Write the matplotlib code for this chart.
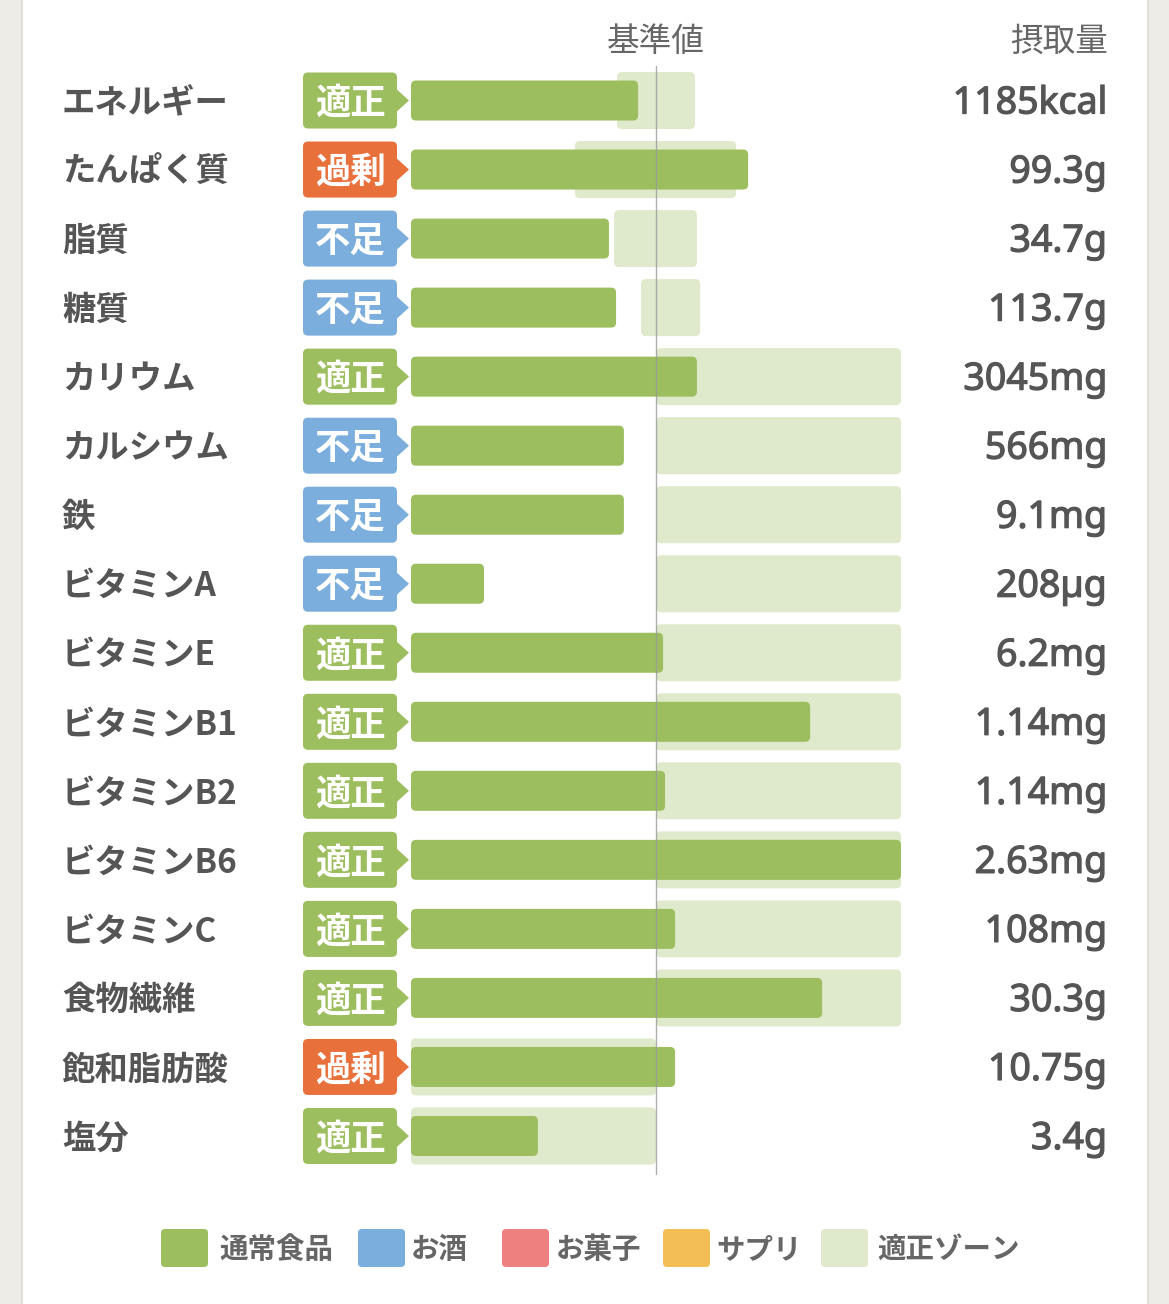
import matplotlib
matplotlib.use('Agg')
import matplotlib.pyplot as plt
from matplotlib.patches import FancyBboxPatch, Polygon, Rectangle
import matplotlib.transforms as mtrans
import matplotlib.patheffects as pe

plt.rcParams['font.family'] = ['Noto Sans CJK JP', 'DejaVu Sans']

# ---------------- data ----------------
nutrients = ['エネルギー', 'たんぱく質', '脂質', '糖質', 'カリウム', 'カルシウム', '鉄',
             'ビタミンA', 'ビタミンE', 'ビタミンB1', 'ビタミンB2', 'ビタミンB6',
             'ビタミンC', '食物繊維', '飽和脂肪酸', '塩分']
status = ['適正', '過剰', '不足', '不足', '適正', '不足', '不足', '不足',
          '適正', '適正', '適正', '適正', '適正', '適正', '過剰', '適正']
intake_labels = ['1185kcal', '99.3g', '34.7g', '113.7g', '3045mg', '566mg', '9.1mg',
                 '208µg', '6.2mg', '1.14mg', '1.14mg', '2.63mg', '108mg', '30.3g',
                 '10.75g', '3.4g']
# intake as % of the reference value (基準値 = 100), bar capped at 200
intake_pct = [92.7, 137.6, 80.8, 83.7, 116.7, 86.9, 86.9, 29.8, 102.9, 162.9,
              103.7, 200.0, 107.8, 167.8, 107.8, 51.8]
zone_lo = [84.1, 66.9, 82.9, 93.9, 100, 100, 100, 100, 100, 100, 100, 100, 100, 100, 0, 0]
zone_hi = [115.9, 132.7, 116.7, 118.0, 200, 200, 200, 200, 200, 200, 200, 200, 200, 200, 100, 100]
legend_labels = ['通常食品', 'お酒', 'お菓子', 'サプリ', '適正ゾーン']

# ---------------- styles ----------------
BAR = '#9DBE5E'
ZONE = '#DEEACB'
STATUS_COL = {'適正': '#9DBE5E', '過剰': '#E8703B', '不足': '#7BAEDC'}
LEG_COL = ['#9DBE5E', '#7BAEDC', '#EE8080', '#F3BE55', '#DEEACB']
TXT = '#555555'

W, H = 1169, 1304
fig = plt.figure(figsize=(W / 100, H / 100), dpi=100)
fig.patch.set_facecolor('#EDECE6')

# overlay axes in pixel units for card / header / legend
lax = fig.add_axes([0, 0, 1, 1], zorder=0)
lax.set_xlim(0, W)
lax.set_ylim(H, 0)
lax.axis('off')
lax.add_patch(Rectangle((22, 0), 1126, H, facecolor='white', edgecolor='none'))
lax.plot([22, 22], [0, H], color='#DCDBD3', lw=1.2)
lax.plot([1148, 1148], [0, H], color='#DCDBD3', lw=1.2)

lax.text(656, 42, '基準値', ha='center', va='center', fontsize=23.5, color='#666666')
lax.text(1108, 42, '摂取量', ha='right', va='center', fontsize=23.5, color='#666666')

# main axes: x in % of reference, y in rows
x0_px, x1_px = 411, 901
top_px, bot_px = 66, 1175
n = len(nutrients)
ax = fig.add_axes([x0_px / W, (H - bot_px) / H, (x1_px - x0_px) / W, (bot_px - top_px) / H], zorder=1)
ax.patch.set_visible(False)
ax.axis('off')
ax.set_xlim(0, 200)
row_px = 69
ax.set_ylim(n - 0.5 + (bot_px - (101 + row_px * (n - 1)) - row_px / 2) / row_px, -0.5)

px_x = (x1_px - x0_px) / 200.0
px_y = float(row_px)
aspect = px_x / px_y
dy = 3 / row_px  # small optical shift for text centring


def rounded(container, r_px, color, z):
    for rect in container:
        x, y, w, h = rect.get_x(), rect.get_y(), rect.get_width(), rect.get_height()
        rect.set_visible(False)
        p = FancyBboxPatch((x, y), w, h,
                           boxstyle=f"round,pad=0,rounding_size={r_px / px_x}",
                           mutation_aspect=aspect, facecolor=color, edgecolor='none',
                           zorder=z, clip_on=False)
        ax.add_patch(p)


ys = list(range(n))
zones = ax.barh(ys, [hi - lo for lo, hi in zip(zone_lo, zone_hi)], left=zone_lo,
                height=57 / row_px, color=ZONE)
rounded(zones, 5, ZONE, 1)
bars = ax.barh(ys, intake_pct, height=40 / row_px, color=BAR)
rounded(bars, 5, BAR, 2)
ax.axvline(100, color='#9a9a9a', lw=1.0, alpha=0.8, zorder=3)

# badges (left of bars)
b_left = (303 - x0_px) / px_x
b_right = (397 - x0_px) / px_x
tip = (409 - x0_px) / px_x
bh = 56 / row_px
ah = 12 / row_px
for i, s in enumerate(status):
    col = STATUS_COL[s]
    ax.add_patch(FancyBboxPatch((b_left, i - bh / 2), b_right - b_left, bh,
                                boxstyle=f"round,pad=0,rounding_size={5 / px_x}",
                                mutation_aspect=aspect, facecolor=col, edgecolor='none',
                                clip_on=False, zorder=2))
    ax.add_patch(Polygon([(b_right - 0.5, i - ah), (tip, i), (b_right - 0.5, i + ah)],
                         closed=True, facecolor=col, edgecolor='none', clip_on=False, zorder=2))
    ax.text((b_left + b_right) / 2, i + dy, s, ha='center', va='center', fontsize=25.5,
            fontweight='bold', color='white', zorder=4, clip_on=False)

# labels and values
tr = mtrans.blended_transform_factory(lax.transData, ax.transData)
for i, (name, val) in enumerate(zip(nutrients, intake_labels)):
    lax.text(62, i + dy, name, transform=tr, ha='left', va='center', fontsize=24,
             fontweight='bold', color=TXT)
    lax.text(1107, i + dy, val, transform=tr, ha='right', va='center', fontsize=27,
             color=TXT, family=['Noto Sans', 'Noto Sans CJK JP'],
             path_effects=[pe.withStroke(linewidth=0.9, foreground=TXT)])

# legend
sq_x = [161, 358, 502, 663, 821]
tx_x = [219, 411, 556, 716, 877]
for sx, tx, lab, col in zip(sq_x, tx_x, legend_labels, LEG_COL):
    lax.add_patch(FancyBboxPatch((sx, 1229), 47, 38, boxstyle="round,pad=0,rounding_size=4",
                                 facecolor=col, edgecolor='none'))
    lax.text(tx, 1250, lab, ha='left', va='center', fontsize=20.5, fontweight='bold',
             color='#666666')

fig.savefig('out.png', dpi=100, facecolor=fig.get_facecolor())
